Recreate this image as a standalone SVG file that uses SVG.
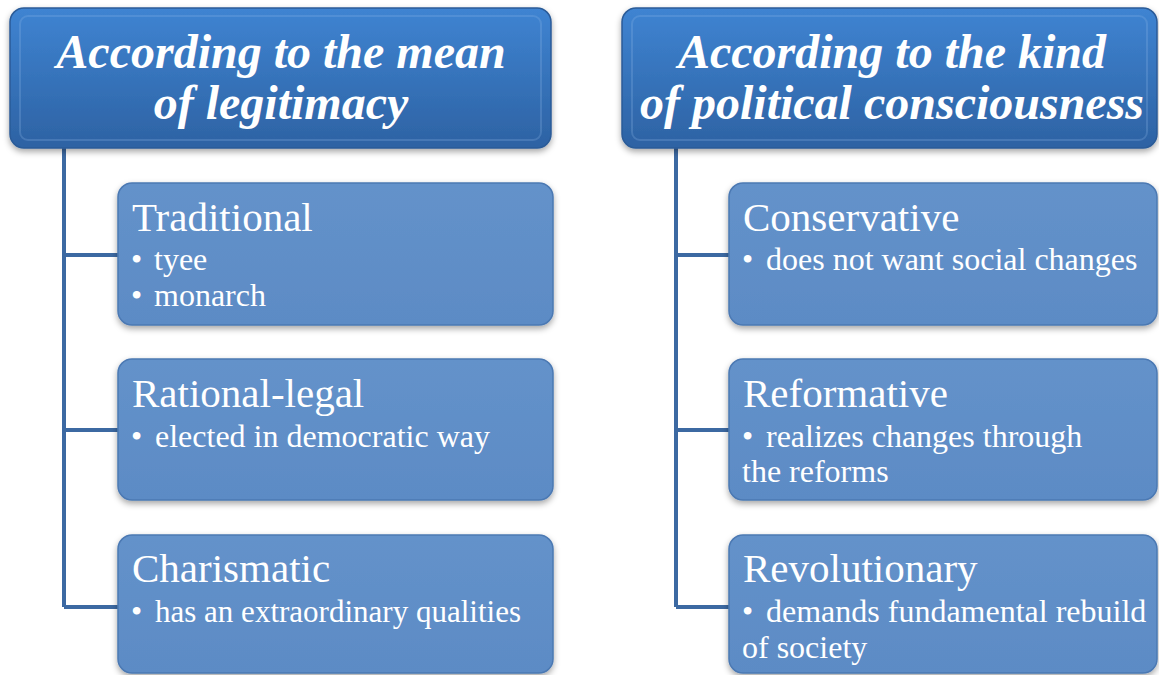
<svg xmlns="http://www.w3.org/2000/svg" width="1159" height="675" viewBox="0 0 1159 675">
<defs>
<linearGradient id="hg" x1="0" y1="0" x2="0" y2="1">
<stop offset="0" stop-color="#3f84d2"/>
<stop offset="1" stop-color="#2d62a3"/>
</linearGradient>
<linearGradient id="cg" x1="0" y1="0" x2="0" y2="1">
<stop offset="0" stop-color="#6492ca"/>
<stop offset="1" stop-color="#5c8bc5"/>
</linearGradient>
<filter id="sh" x="-5%" y="-10%" width="110%" height="125%">
<feDropShadow dx="0" dy="3" stdDeviation="3" flood-color="#000" flood-opacity="0.35"/>
</filter>
<style>
.hd{fill:url(#hg);stroke:#2b5b98;stroke-width:1.5;filter:url(#sh)}
.ch{fill:url(#cg);stroke:#4b79b3;stroke-width:1.5;filter:url(#sh)}
.bev{fill:none;stroke:#8fb6e6;stroke-width:2;opacity:0.25}
.cn{fill:none;stroke:#3c69a2;stroke-width:4}
</style>
</defs>
<rect width="1159" height="675" fill="#fff"/>
<g id="connectors">
<path class="cn" d="M64 148 V607 M64 255 H118 M64 430 H118 M64 607 H118"/>
<path class="cn" d="M676 148 V607 M676 255 H729 M676 430 H729 M676 607 H729"/>
</g>
<g id="h1">
<rect class="hd" x="10" y="8" width="541" height="140" rx="14"/>
<rect class="bev" x="20" y="16" width="521" height="124" rx="8"/>
<text x="281" y="68" font-family="'Liberation Serif', serif" font-style="italic" font-weight="bold" font-size="48" fill="#fff" text-anchor="middle">According to the mean</text>
<text x="281" y="119" font-family="'Liberation Serif', serif" font-style="italic" font-weight="bold" font-size="48" fill="#fff" text-anchor="middle">of legitimacy</text>
</g>
<g id="h2">
<rect class="hd" x="622" y="8" width="535" height="140" rx="14"/>
<rect class="bev" x="632" y="16" width="515" height="124" rx="8"/>
<text x="892" y="68" font-family="'Liberation Serif', serif" font-style="italic" font-weight="bold" font-size="48" fill="#fff" text-anchor="middle">According to the kind</text>
<text x="892" y="119" font-family="'Liberation Serif', serif" font-style="italic" font-weight="bold" font-size="48" fill="#fff" text-anchor="middle">of political consciousness</text>
</g>
<g id="n1">
<rect class="ch" x="118" y="183" width="435" height="142" rx="14"/>
<text x="132" y="231" font-family="'Liberation Serif', serif" font-size="41" fill="#fff">Traditional</text>
<text x="131" y="270" font-family="'Liberation Serif', serif" font-size="32" fill="#fff">•<tspan x="154">tyee</tspan></text>
<text x="131" y="306" font-family="'Liberation Serif', serif" font-size="32" fill="#fff">•<tspan x="154">monarch</tspan></text>
</g>
<g id="n2">
<rect class="ch" x="118" y="359" width="435" height="141" rx="14"/>
<text x="132" y="407" font-family="'Liberation Serif', serif" font-size="41" fill="#fff">Rational-legal</text>
<text x="131" y="447" font-family="'Liberation Serif', serif" font-size="32" fill="#fff">•<tspan x="155">elected in democratic way</tspan></text>
</g>
<g id="n3">
<rect class="ch" x="118" y="535" width="435" height="138" rx="14"/>
<text x="132" y="582" font-family="'Liberation Serif', serif" font-size="41" fill="#fff">Charismatic</text>
<text x="131" y="622" font-family="'Liberation Serif', serif" font-size="32" fill="#fff">•</text>
<text x="155" y="622" font-family="'Liberation Serif', serif" font-size="32" fill="#fff" textLength="366" lengthAdjust="spacingAndGlyphs">has an extraordinary qualities</text>
</g>
<g id="n4">
<rect class="ch" x="729" y="183" width="428" height="142" rx="14"/>
<text x="743" y="231" font-family="'Liberation Serif', serif" font-size="41" fill="#fff">Conservative</text>
<text x="742" y="270" font-family="'Liberation Serif', serif" font-size="32" fill="#fff">•<tspan x="766">does not want social changes</tspan></text>
</g>
<g id="n5">
<rect class="ch" x="729" y="359" width="428" height="141" rx="14"/>
<text x="743" y="407" font-family="'Liberation Serif', serif" font-size="41" fill="#fff">Reformative</text>
<text x="742" y="447" font-family="'Liberation Serif', serif" font-size="32" fill="#fff">•<tspan x="766">realizes changes through</tspan></text>
<text x="742" y="482" font-family="'Liberation Serif', serif" font-size="32" fill="#fff">the reforms</text>
</g>
<g id="n6">
<rect class="ch" x="729" y="535" width="428" height="138" rx="14"/>
<text x="743" y="582" font-family="'Liberation Serif', serif" font-size="41" fill="#fff">Revolutionary</text>
<text x="742" y="622" font-family="'Liberation Serif', serif" font-size="32" fill="#fff">•<tspan x="766">demands fundamental rebuild</tspan></text>
<text x="742" y="658" font-family="'Liberation Serif', serif" font-size="32" fill="#fff">of society</text>
</g>
</svg>
